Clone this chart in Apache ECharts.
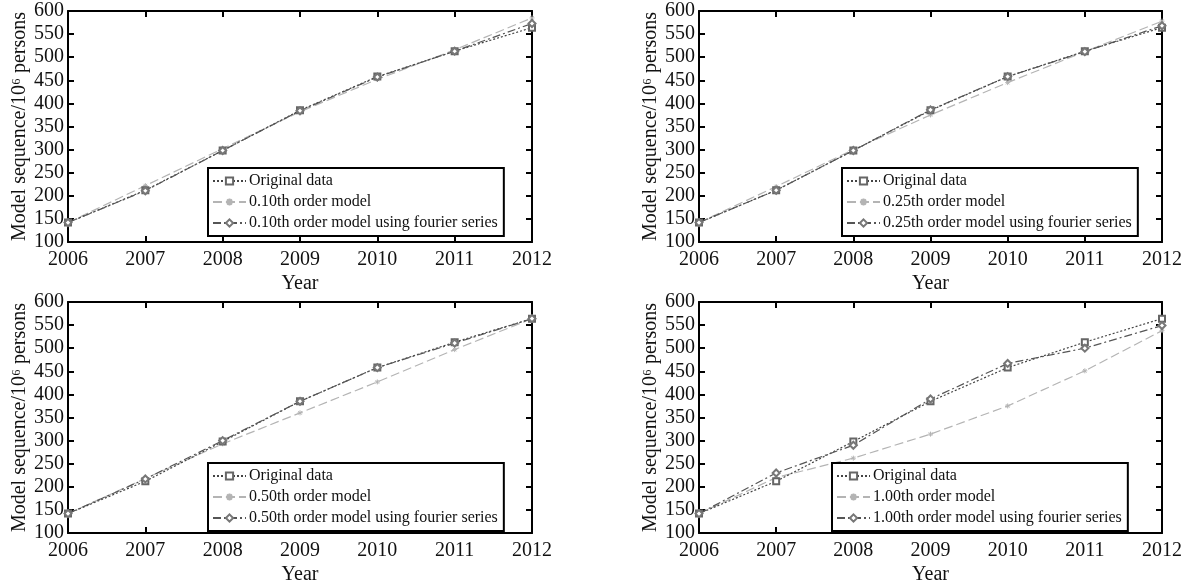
<!DOCTYPE html>
<html>
<head>
<meta charset="utf-8">
<script src="https://cdn.jsdelivr.net/npm/echarts@6/dist/echarts.min.js"></script>
<style>
html,body{margin:0;padding:0;background:#fff;}
#chart{width:1187px;height:588px;}
</style>
</head>
<body>
<div id="chart"></div>
<script>
// ---- data ----
const years = [2006, 2007, 2008, 2009, 2010, 2011, 2012];
const originalData = [142, 212, 298, 385, 458, 513, 564];
const model010   = [142, 222, 302, 382, 452, 516, 585];
const fourier010 = [142, 211, 298, 384, 457, 513, 573];
const model025   = [142, 220, 300, 375, 445, 512, 578];
const fourier025 = [142, 212, 298, 386, 458, 512, 568];
const model050   = [142, 218, 293, 360, 427, 497, 564];
const fourier050 = [142, 217, 300, 385, 458, 511, 564];
const model100   = [142, 220, 262, 314, 375, 451, 538];
const fourier100 = [142, 230, 290, 390, 467, 500, 549];
const orders = ['0.10', '0.25', '0.50', '1.00'];
const modelSets = [model010, model025, model050, model100];
const fourierSets = [fourier010, fourier025, fourier050, fourier100];
const xAxisTitle = 'Year';
const yAxisTitle = 'Model sequence/10\u2076 persons';
const yMin = 100, yMax = 600, yStep = 50;

// ---- layout ----
const FONT = '"Liberation Serif", "Times New Roman", serif';
const panels = [
  {left: 68,  top: 11,  w: 464, h: 231, legend: {left: 208, top: 168}},
  {left: 699, top: 11,  w: 463, h: 231, legend: {left: 842, top: 168}},
  {left: 68,  top: 302, w: 464, h: 231, legend: {left: 208, top: 463}},
  {left: 699, top: 302, w: 463, h: 231, legend: {left: 832, top: 463}}
];
const pairs = arr => arr.map((v, i) => [years[i], v]);
const asterisk = 'path://M0,4L8,4M4,0L4,8M1.2,1.2L6.8,6.8M6.8,1.2L1.2,6.8';

const grid = [], xAxis = [], yAxis = [], series = [], legend = [];
const axisLine = {show: true, lineStyle: {color: '#000', width: 2}};
panels.forEach((p, k) => {
  grid.push({left: p.left, top: p.top, width: p.w, height: p.h, containLabel: false});
  const xBase = {gridIndex: k, type: 'value', min: years[0], max: years[years.length - 1], interval: 1,
    axisLine, splitLine: {show: false}, axisTick: {inside: true, length: 6, lineStyle: {color: '#000', width: 2}}};
  xAxis.push(Object.assign({}, xBase, {position: 'bottom',
    axisLabel: {color: '#111', fontFamily: FONT, fontSize: 20, margin: 8, formatter: v => String(v)},
    name: xAxisTitle, nameLocation: 'middle', nameGap: 32,
    nameTextStyle: {color: '#111', fontFamily: FONT, fontSize: 20}}));
  xAxis.push(Object.assign({}, xBase, {position: 'top', axisLabel: {show: false}}));
  const yBase = {gridIndex: k, type: 'value', min: yMin, max: yMax, interval: yStep,
    axisLine, splitLine: {show: false}, axisTick: {inside: true, length: 6, lineStyle: {color: '#000', width: 2}}};
  yAxis.push(Object.assign({}, yBase, {position: 'left',
    axisLabel: {color: '#111', fontFamily: FONT, fontSize: 20, margin: 4},
    name: yAxisTitle, nameLocation: 'middle', nameGap: 37, nameRotate: 90,
    nameTextStyle: {color: '#111', fontFamily: FONT, fontSize: 20}}));
  yAxis.push(Object.assign({}, yBase, {position: 'right', axisLabel: {show: false}}));

  const xi = k * 2, yi = k * 2;
  const nModel = orders[k] + 'th order model';
  const nFourier = orders[k] + 'th order model using fourier series';
  series.push({type: 'line', name: 'Original data', xAxisIndex: xi, yAxisIndex: yi, data: pairs(originalData),
    symbol: 'emptyRect', symbolSize: 6, z: 3,
    lineStyle: {color: '#444', width: 1.2, type: [2, 2]},
    itemStyle: {color: '#666', borderColor: '#666', borderWidth: 1.3}});
  series.push({type: 'line', name: nModel, xAxisIndex: xi, yAxisIndex: yi, data: pairs(modelSets[k]),
    symbol: asterisk, symbolSize: 5, z: 2,
    lineStyle: {color: '#b4b4b4', width: 1.2, type: [9, 4]},
    itemStyle: {color: '#b4b4b4', borderColor: '#b4b4b4', borderWidth: 1}});
  series.push({type: 'line', name: nFourier, xAxisIndex: xi, yAxisIndex: yi, data: pairs(fourierSets[k]),
    symbol: 'emptyDiamond', symbolSize: 7, z: 3,
    lineStyle: {color: '#555', width: 1.2, type: [8, 3, 2, 3]},
    itemStyle: {color: '#777', borderColor: '#777', borderWidth: 1.2}});
  legend.push({left: p.legend.left, top: p.legend.top, orient: 'vertical',
    data: ['Original data', nModel, nFourier],
    backgroundColor: '#fff', borderColor: '#000', borderWidth: 2, borderRadius: 0,
    padding: [5, 6, 5, 4], itemGap: 5, itemWidth: 33, itemHeight: 9,
    selectedMode: false,
    textStyle: {color: '#111', fontFamily: FONT, fontSize: 16, padding: [0, 0, 0, -2]}});
});

const chart = echarts.init(document.getElementById('chart'), null, {renderer: 'canvas'});
chart.setOption({animation: false, backgroundColor: '#fff', grid, xAxis, yAxis, series, legend});
</script>
</body>
</html>
